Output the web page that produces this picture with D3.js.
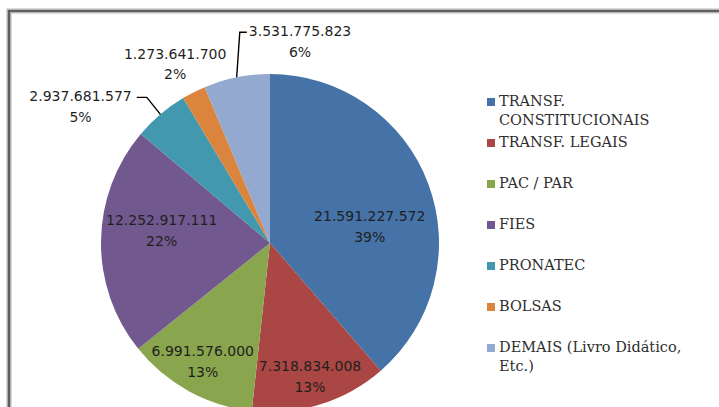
<!DOCTYPE html>
<html>
<head>
<meta charset="utf-8">
<script src="https://cdn.jsdelivr.net/npm/d3@7"></script>
<style>
  html, body { margin: 0; padding: 0; background: #fff; }
  svg { display: block; }
</style>
</head>
<body>
<svg id="chart" width="719" height="407"></svg>
<script>
// ---- data ----
const categories = [
  "TRANSF. CONSTITUCIONAIS",
  "TRANSF. LEGAIS",
  "PAC / PAR",
  "FIES",
  "PRONATEC",
  "BOLSAS",
  "DEMAIS (Livro Didático, Etc.)"
];
const values = [21591227572, 7318834008, 6991576000, 12252917111, 2937681577, 1273641700, 3531775823];
const legendLines = [
  ["TRANSF.", "CONSTITUCIONAIS"],
  ["TRANSF. LEGAIS"],
  ["PAC / PAR"],
  ["FIES"],
  ["PRONATEC"],
  ["BOLSAS"],
  ["DEMAIS (Livro Didático,", "Etc.)"]
];

// ---- styles / layout ----
const colors = ["#4572A7", "#AA4643", "#89A54E", "#71588F", "#4198AF", "#DB843D", "#93A9CF"];
// label placement: [angle in degrees clockwise from 12 o'clock, distance from centre]
const labelPolar = [[81, 101], [163.4, 140], [209.4, 137], [276.3, 109], [305.6, 233], [332, 202], [8.5, 203]];
const leaderSide = [null, null, null, null, "right", null, "left"];

const W = 719, H = 407;
const cx = 270, cy = 243, R = 169;

const svg = d3.select("#chart");
svg.append("rect").attr("width", W).attr("height", H).attr("fill", "#fff");

// frame (screenshot border)
svg.append("path").attr("d", `M9,${H} V11 H${W}`).attr("fill", "none")
  .attr("stroke", "#b8b8b8").attr("stroke-width", 5);
svg.append("path").attr("d", `M9,${H} V11 H${W}`).attr("fill", "none")
  .attr("stroke", "#5e5e5e").attr("stroke-width", 2.2);

const total = d3.sum(values);
const locale = d3.formatLocale({ decimal: ",", thousands: ".", grouping: [3], currency: ["", ""] });
const fmt = locale.format(",d");

const pie = d3.pie().sort(null).value(d => d);
const arcs = pie(values);
const arc = d3.arc().innerRadius(0).outerRadius(R);

const g = svg.append("g").attr("transform", `translate(${cx},${cy})`);

g.selectAll("path.slice").data(arcs).join("path")
  .attr("class", "slice")
  .attr("d", arc)
  .attr("fill", (d, i) => colors[i]);

// labels
const labelFont = "'DejaVu Sans', sans-serif";
const lg = g.append("g");
arcs.forEach((d, i) => {
  const [ang, dist] = labelPolar[i];
  const [x, y] = d3.pointRadial(ang * Math.PI / 180, dist);
  const t = lg.append("text")
    .attr("font-family", labelFont)
    .attr("font-size", 14)
    .attr("fill", "#1f1f1f")
    .attr("text-anchor", "middle");
  t.append("tspan").attr("x", x).attr("y", y - 10).attr("dominant-baseline", "middle")
    .text(fmt(values[i]));
  t.append("tspan").attr("x", x).attr("y", y + 10.5).attr("dominant-baseline", "middle")
    .text(Math.round(values[i] / total * 100) + "%");

  if (leaderSide[i]) {
    const bb = t.node().getBBox();
    const mid = (d.startAngle + d.endAngle) / 2;
    const [ex, ey] = d3.pointRadial(mid, R);
    const ly = y - 10;
    let pts;
    if (leaderSide[i] === "right") {
      const x0 = bb.x + bb.width + 5;
      pts = [[x0, ly], [x0 + 10, ly], [ex, ey]];
    } else {
      const x0 = bb.x - 2;
      pts = [[x0, ly], [x0 - 7, ly], [ex, ey]];
    }
    lg.append("path").attr("d", d3.line()(pts))
      .attr("fill", "none").attr("stroke", "#000").attr("stroke-width", 1.4);
  }
});

// legend
const legendX = 487, legendY0 = 102, step = 41;
const leg = svg.append("g");
categories.forEach((c, i) => {
  const y = legendY0 + i * step;
  leg.append("rect").attr("x", legendX).attr("y", y - 4).attr("width", 8).attr("height", 8)
    .attr("fill", colors[i]);
  const t = leg.append("text")
    .attr("font-family", "'DejaVu Serif', serif")
    .attr("font-size", 14.5)
    .attr("fill", "#2e2e2e");
  legendLines[i].forEach((ln, j) => {
    t.append("tspan").attr("x", legendX + 12).attr("y", y + j * 19)
      .attr("dominant-baseline", "middle").text(ln);
  });
});
</script>
</body>
</html>
